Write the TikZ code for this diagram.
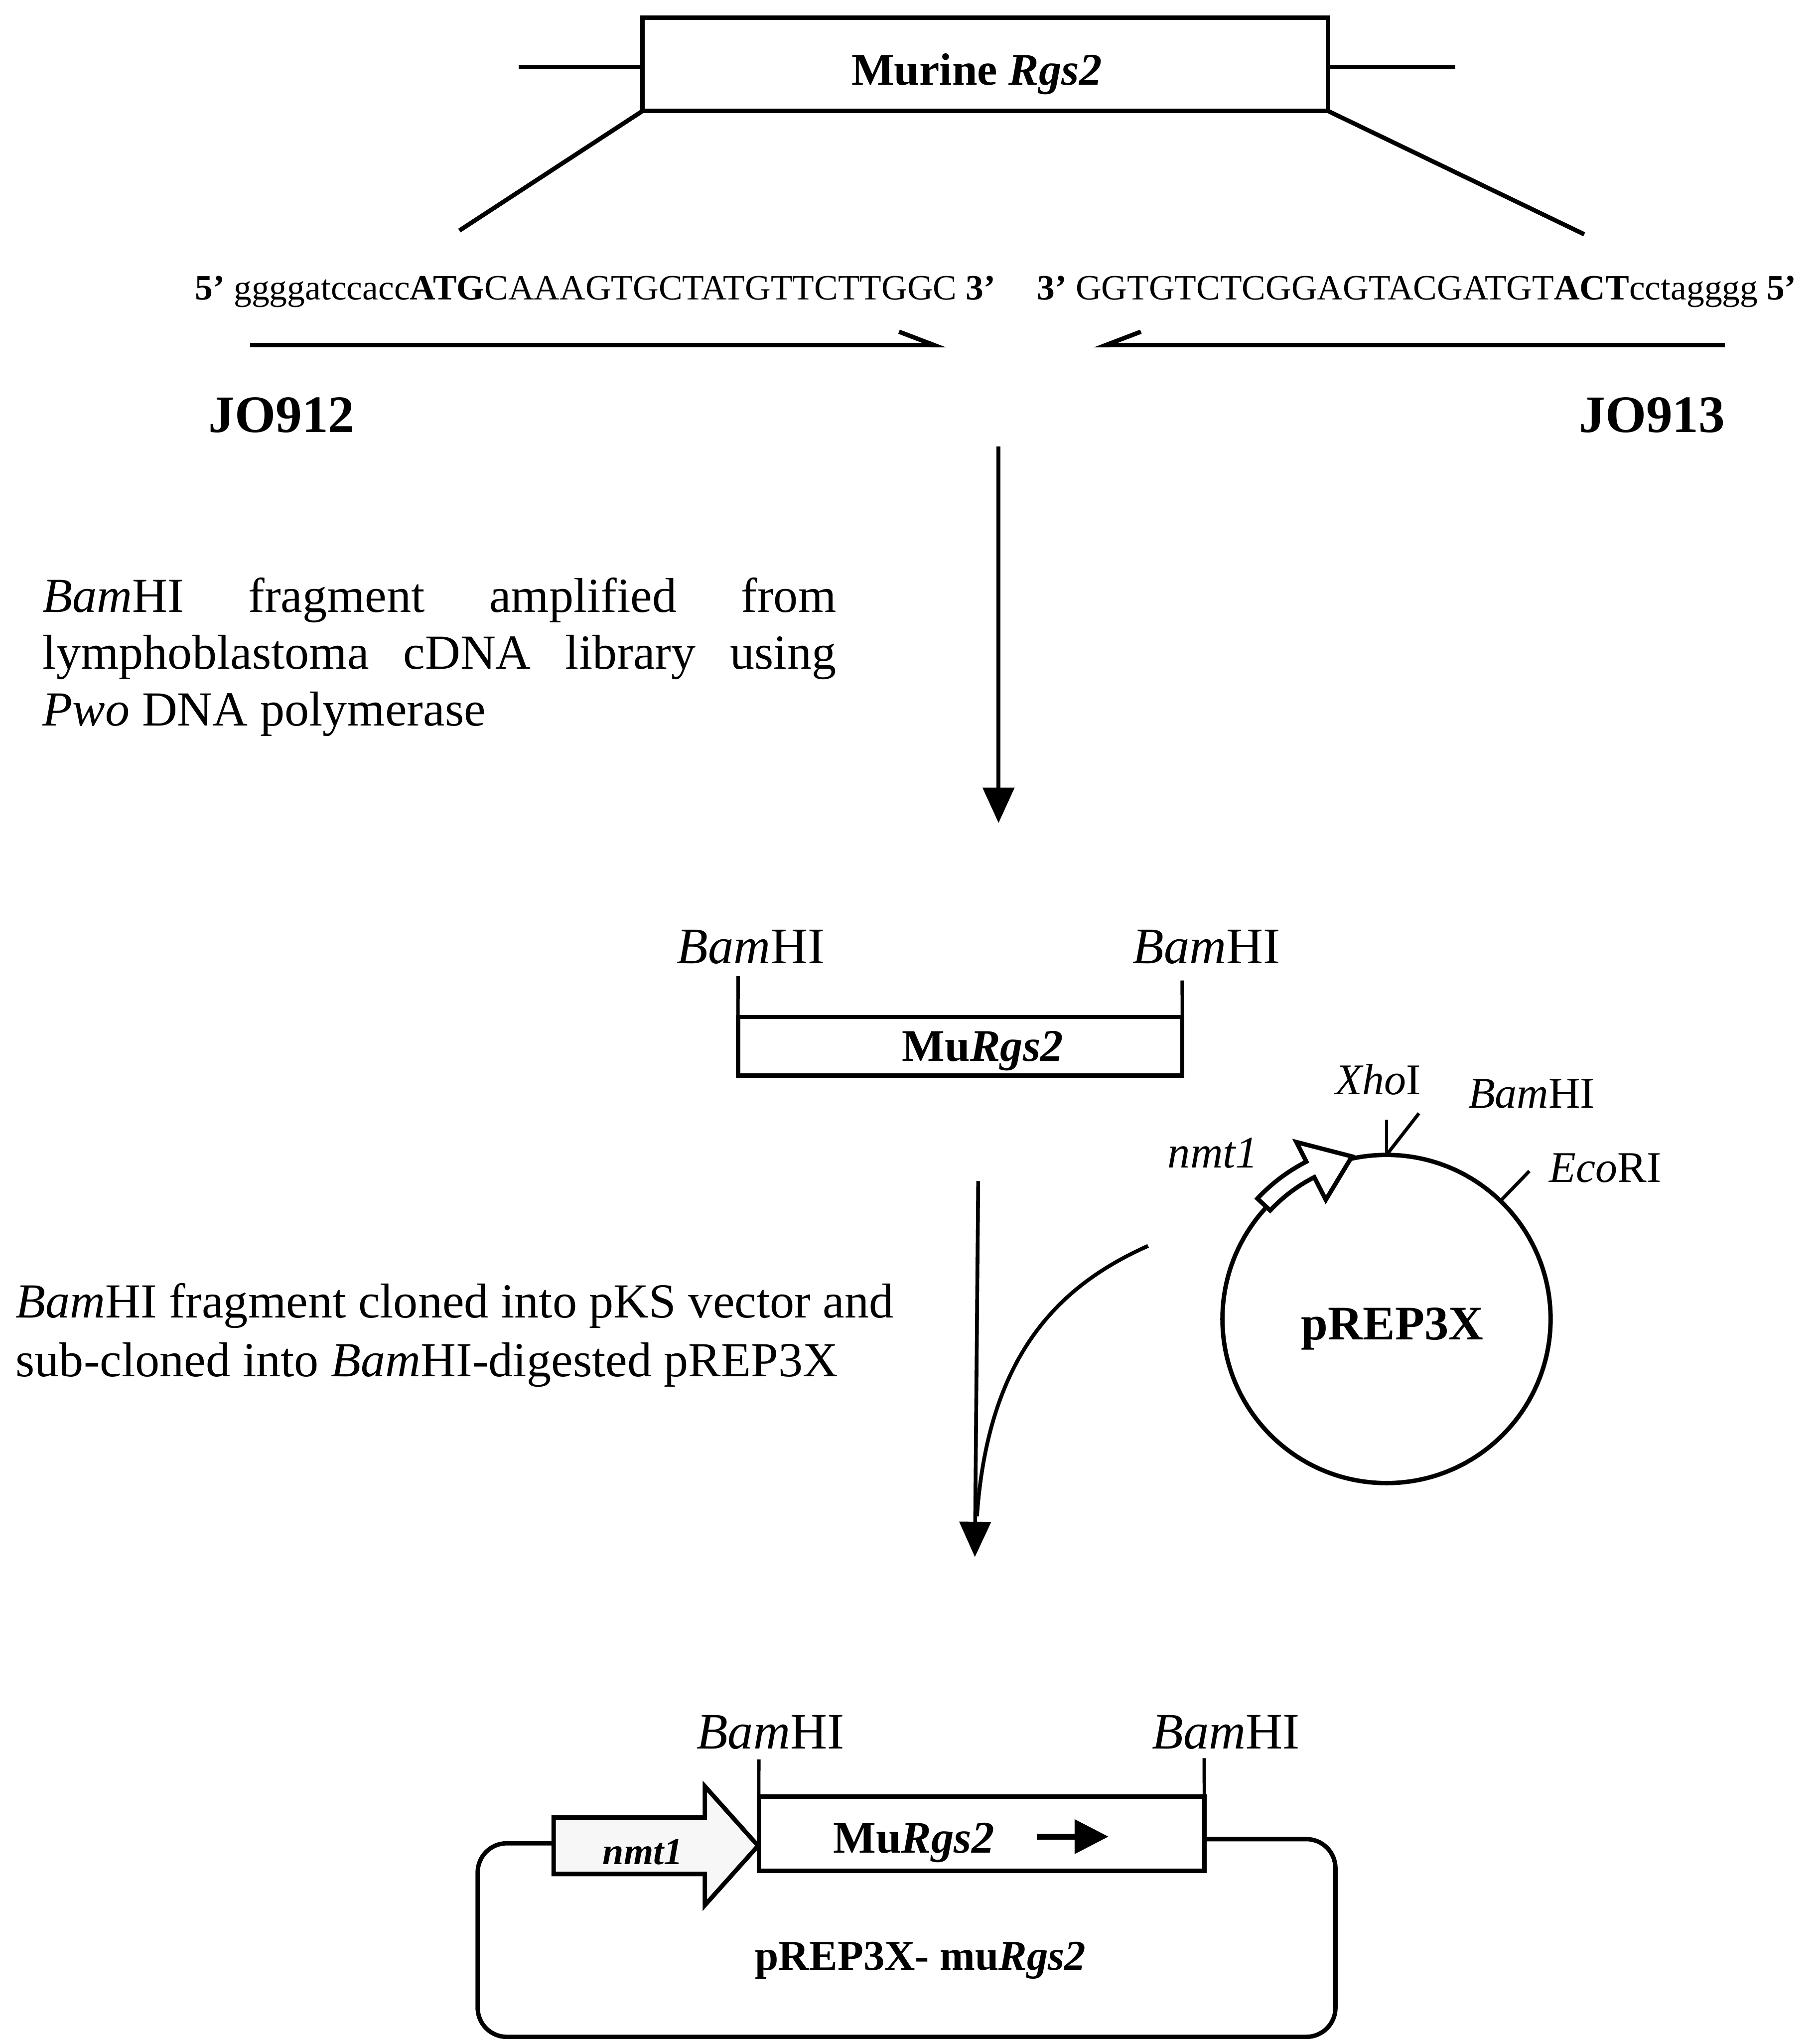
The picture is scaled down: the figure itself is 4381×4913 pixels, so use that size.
\documentclass[tikz,border=0pt]{standalone}
\usepackage{fontspec}
\setmainfont{Liberation Serif}
\usetikzlibrary{arrows.meta,calc}
\begin{document}
\begin{tikzpicture}[x=0.01cm,y=-0.01cm,
  ln/.style={line width=3pt},
  tick/.style={line width=2.3pt},
  txt/.style={inner sep=0pt,outer sep=0pt},
  seqtext/.style={txt,font=\fontsize{24.4}{29}\selectfont},
  primername/.style={txt,font=\fontsize{36}{42}\selectfont\bfseries},
  bodytext/.style={txt,font=\fontsize{33.5}{39}\selectfont},
  site/.style={txt,font=\fontsize{35}{42}\selectfont},
  smallsite/.style={txt,font=\fontsize{30}{36}\selectfont},
  genelabel/.style={txt,font=\fontsize{31}{36}\selectfont\bfseries},
  genebox/.style={draw,ln,inner sep=0pt,outer sep=0pt},
  flow/.style={line width=2.6pt,-{Triangle[length=0.85cm,width=0.75cm]}},
  primerarrow/.style={ln,-{Straight Barb[harpoon,length=0.85cm,width=0.65cm]}},
  primerarrowrev/.style={ln,-{Straight Barb[harpoon,swap,length=0.85cm,width=0.65cm]}},
]
\useasboundingbox (0,0) rectangle (4381,4913);

% ---------- genomic locus ----------
\node[genebox,minimum width=16.49cm,minimum height=2.24cm] (locus) at (2372,155) {};
\node[genelabel,anchor=base west] (locuslabel) at (2050,205) {Murine \textit{Rgs2}};
\coordinate (stubL) at (1249,162);
\coordinate (stubR) at (3504,162);
\draw[ln] (stubL) -- (stubL -| locus.west);
\draw[ln] (locus.east |- stubR) -- (stubR);
\coordinate (fanL) at (1106,555);
\coordinate (fanR) at (3814,564);
\draw[ln] (locus.south west) -- (fanL);
\draw[ln] (locus.south east) -- (fanR);

% ---------- primers ----------
\node[seqtext,anchor=base west] (fwd) at (470,721)
  {\textbf{5’} ggggatccacc\textbf{ATG}CAAAGTGCTATGTTCTTGGC \textbf{3’}};
\node[seqtext,anchor=base east] (rev) at (4325,721)
  {\textbf{3’} GGTGTCTCGGAGTACGATGT\textbf{ACT}cctagggg \textbf{5’}};
\coordinate (fwdS) at (602,831);
\coordinate (fwdE) at (2278,831);
\coordinate (revS) at (4153,831);
\coordinate (revE) at (2633,831);
\draw[primerarrow] (fwdS) -- (fwdE);
\draw[primerarrowrev] (revS) -- (revE);
\node[primername,anchor=base west] (jo912) at (502,1040) {JO912};
\node[primername,anchor=base east] (jo913) at (4153,1040) {JO913};

% ---------- PCR step ----------
\coordinate (pcrS) at (2404,1075);
\coordinate (pcrE) at (2404,1981);
\draw[flow] (pcrS) -- (pcrE);
\node[bodytext,anchor=base west,text width=19.09cm,align=justify] (pcrnote) at (103,1473)
  {\textit{Bam}HI fragment amplified from\linebreak lymphoblastoma cDNA library using\linebreak \textit{Pwo} DNA polymerase};

% ---------- amplified fragment ----------
\node[genebox,minimum width=10.69cm,minimum height=1.41cm] (frag) at (2311.5,2518.5) {};
\node[genelabel,anchor=base west] (fraglabel) at (2172,2554) {Mu\textit{Rgs2}};
\coordinate (fragTL) at (1777,2350);
\coordinate (fragTR) at (2846,2360);
\draw[tick] (fragTL) -- (frag.north west);
\draw[tick] (fragTR) -- (frag.north east);
\node[site,anchor=base west] (fragsiteL) at (1630,2319) {\textit{Bam}HI};
\node[site,anchor=base west] (fragsiteR) at (2727,2319) {\textit{Bam}HI};

% ---------- pREP3X vector ----------
\coordinate (C) at (3338,3175);
\draw[ln] (C) circle[radius=395];
\node[txt,font=\fontsize{33}{40}\selectfont\bfseries,anchor=base] (veclabel) at (3352,3225) {pREP3X};
% promoter arrow on the vector
\draw[ln,fill=white,line join=miter]
  ($(C)+(-137:425)$) arc[start angle=-137,end angle=-117,radius=425]
  -- ($(C)+(-117:478)$) -- ($(C)+(-102:400)$) -- ($(C)+(-117:322)$)
  -- ($(C)+(-117:383)$) arc[start angle=-117,end angle=-137,radius=383] -- cycle;
% restriction sites
\coordinate (xhoE) at (3338,2695);
\coordinate (bamE) at (3416,2680);
\draw[tick] ($(C)+(-90:395)$) -- (xhoE);
\draw[tick] ($(C)+(-90:395)$) -- (bamE);
\draw[tick] ($(C)+(-46:400)$) -- ($(C)+(-46:495)$);
\node[smallsite,anchor=base west] (xholabel) at (3215,2635) {\textit{Xho}I};
\node[smallsite,anchor=base west] (bamlabel) at (3535,2667) {\textit{Bam}HI};
\node[smallsite,anchor=base west] (ecolabel) at (3730,2846) {\textit{Eco}RI};
\node[txt,font=\fontsize{31}{36}\selectfont\itshape,anchor=base west] (nmtlabel) at (2811,2811) {nmt1};

% ---------- cloning step ----------
\coordinate (cloneS) at (2355,2843);
\coordinate (cloneE) at (2347,3748);
\draw[flow] (cloneS) -- (cloneE);
\coordinate (joinS) at (2764,2999);
\coordinate (joinE) at (2352,3650);
\draw[line width=2.6pt] (joinS) .. controls (2560,3090) and (2380,3250) .. (joinE);
\node[bodytext,anchor=base west,align=left,font=\fontsize{33.5}{40}\selectfont] (clonenote) at (38,3313)
  {\textit{Bam}HI fragment cloned into pKS vector and\\sub-cloned into \textit{Bam}HI-digested pREP3X};

% ---------- final construct ----------
\node[genebox,minimum width=10.72cm,minimum height=1.78cm] (insert) at (2363,4414) {};
\node[genelabel,anchor=base west] (insertlabel) at (2006,4460) {Mu\textit{Rgs2}};
\coordinate (dirS) at (2496,4421);
\coordinate (dirE) at (2669,4421);
\draw[line width=4pt,-{Triangle[length=0.82cm,width=0.8cm]}] (dirS) -- (dirE);
\coordinate (insTL) at (1827,4235);
\coordinate (insTR) at (2899,4232);
\draw[tick] (insTL) -- (insert.north west);
\draw[tick] (insTR) -- (insert.north east);
\node[site,anchor=base west] (insSiteL) at (1677,4209) {\textit{Bam}HI};
\node[site,anchor=base west] (insSiteR) at (2774,4209) {\textit{Bam}HI};
% nmt1 promoter block arrow
\draw[ln,fill=black!3,line join=miter]
  (1333,4375) -- (1697,4375) -- (1697,4300) -- (1825,4443)
  -- (1697,4586) -- (1697,4511) -- (1333,4511) -- cycle;
\coordinate (promL) at (1333,4437);
\coordinate (insR) at (2899,4427);
\node[txt,font=\fontsize{26}{30}\selectfont\bfseries\itshape,anchor=base west] (promlabel) at (1451,4488) {nmt1};
% plasmid backbone
\draw[ln,rounded corners=0.7cm] (promL) -- (1150,4437) -- (1150,4903) -- (3215,4903) -- (3215,4427) -- (insR);
\node[txt,font=\fontsize{29}{34}\selectfont\bfseries,anchor=base west] (constructlabel) at (1818,4742) {pREP3X- mu\textit{Rgs2}};
\end{tikzpicture}
\end{document}
